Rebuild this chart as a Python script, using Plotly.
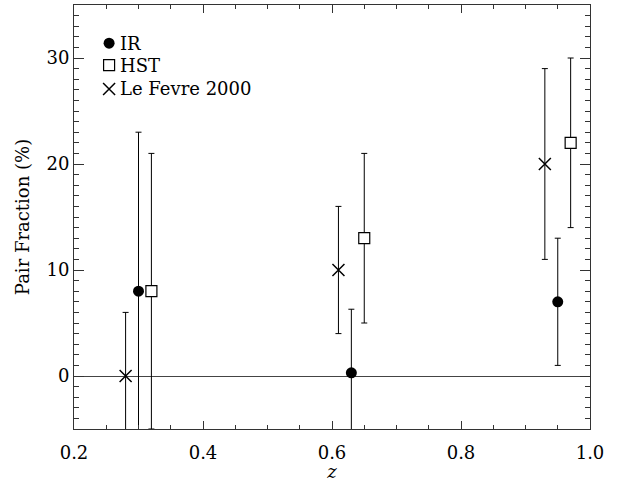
import plotly.graph_objects as go

# Data
ir_z = [0.30, 0.63, 0.95]
ir_frac = [8.0, 0.3, 7.0]
ir_err = [15.0, 6.0, 6.0]

hst_z = [0.32, 0.65, 0.97]
hst_frac = [8.0, 13.0, 22.0]
hst_err = [13.0, 8.0, 8.0]

lf_z = [0.28, 0.61, 0.93]
lf_frac = [0.0, 10.0, 20.0]
lf_err = [6.0, 6.0, 9.0]

legend_labels = ["IR", "HST", "Le Fevre 2000"]

FONT = "DejaVu Serif"
FS = 18

fig = go.Figure()

err_style = dict(type="data", thickness=1, width=3, color="black")

fig.add_trace(go.Scatter(
    x=ir_z, y=ir_frac, mode="markers", name=legend_labels[0],
    error_y=dict(array=ir_err, **err_style),
    marker=dict(symbol="circle", size=11, color="black"),
    cliponaxis=True, showlegend=False))
fig.add_trace(go.Scatter(
    x=hst_z, y=hst_frac, mode="markers", name=legend_labels[1],
    error_y=dict(array=hst_err, **err_style),
    marker=dict(symbol="square", size=11, color="white",
                line=dict(color="black", width=1.2)),
    cliponaxis=True, showlegend=False))
fig.add_trace(go.Scatter(
    x=lf_z, y=lf_frac, mode="markers", name=legend_labels[2],
    error_y=dict(array=lf_err, **err_style),
    marker=dict(symbol="x-thin-open", size=12, color="black",
                line=dict(color="black", width=1.5)),
    cliponaxis=True, showlegend=False))

# Legend drawn inside the plot on an auxiliary 0..1 axis
key_x = 0.068
key_ys = [0.910, 0.858, 0.802]
key_styles = [
    dict(symbol="circle", size=11, color="black"),
    dict(symbol="square", size=11, color="white", line=dict(color="black", width=1.2)),
    dict(symbol="x-thin-open", size=12, color="black", line=dict(color="black", width=1.5)),
]
for ky, st in zip(key_ys, key_styles):
    fig.add_trace(go.Scatter(x=[key_x], y=[ky], mode="markers", marker=st,
                             xaxis="x2", yaxis="y2", showlegend=False,
                             hoverinfo="skip"))
for lab, ky in zip(legend_labels, key_ys):
    fig.add_annotation(x=0.086, y=ky, xref="paper", yref="paper", text=lab,
                       showarrow=False, xanchor="left", yanchor="middle",
                       font=dict(family=FONT, size=FS, color="black"))

axis_common = dict(showline=True, linecolor="#333", linewidth=1, mirror="allticks",
                   ticks="inside", tickcolor="#333", showgrid=False,
                   tickfont=dict(family=FONT, size=FS, color="black"))

fig.update_layout(
    width=621, height=482,
    margin=dict(l=74, r=31, t=5, b=53),
    paper_bgcolor="white", plot_bgcolor="white",
    font=dict(family=FONT, size=FS, color="black"),
    xaxis=dict(range=[0.2, 1.0], dtick=0.2, tick0=0.2, tickformat=".1f",
               ticklen=8, zeroline=False, ticklabelstandoff=7,
               minor=dict(dtick=0.05, ticklen=4, ticks="inside", tickcolor="#333"),
               title=dict(text="<i>z</i>", standoff=0,
                          font=dict(family=FONT, size=FS)),
               **axis_common),
    yaxis=dict(range=[-5, 35], dtick=10, tick0=0, ticklen=10,
               zeroline=True, zerolinecolor="#444", zerolinewidth=1,
               minor=dict(dtick=1, ticklen=5, ticks="inside", tickcolor="#333"),
               title=dict(text="Pair Fraction (%)", standoff=12,
                          font=dict(family=FONT, size=FS)),
               **axis_common),
    xaxis2=dict(overlaying="x", range=[0, 1], visible=False),
    yaxis2=dict(overlaying="y", range=[0, 1], visible=False),
)

fig.write_html("out.html", config={"displayModeBar": False},
               post_script="document.body.style.margin='0';")
